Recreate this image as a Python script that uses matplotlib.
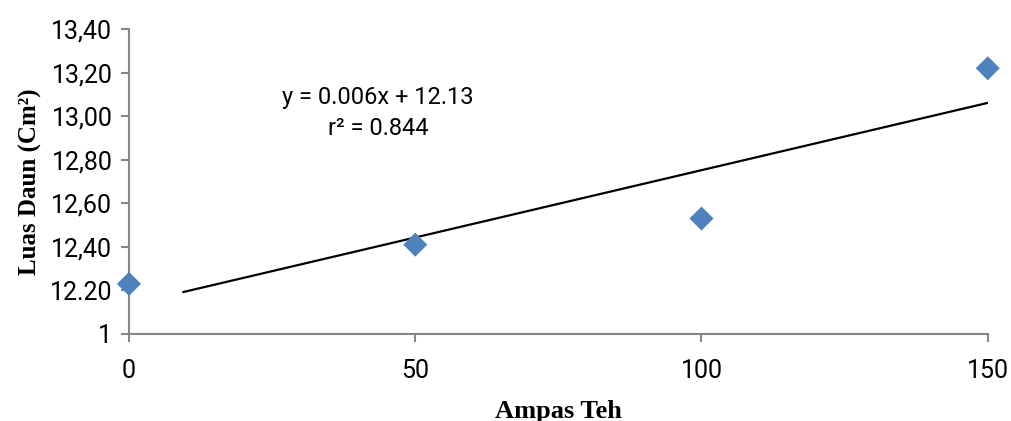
import numpy as np
import matplotlib.pyplot as plt

# data
ampas_teh = np.array([0, 50, 100, 150])
luas_daun = np.array([12.23, 12.41, 12.53, 13.22])

y_ticks = [12.00, 12.20, 12.40, 12.60, 12.80, 13.00, 13.20, 13.40]
y_labels = ["1", "12.20", "12,40", "12,60", "12,80", "13,00", "13,20", "13,40"]
x_ticks = [0, 50, 100, 150]

fig = plt.figure(figsize=(10.11, 4.21), dpi=100)
ax = fig.add_axes([0.1276, 0.2067, 0.8494, 0.7243])

# trend line (linear fit)
slope, intercept = np.polyfit(ampas_teh, luas_daun, 1)
xl = np.array([9.5, 150])
ax.plot(xl, slope * xl + intercept, color='black', lw=1.6, zorder=2)

ax.scatter(ampas_teh, luas_daun, marker='D', s=150, color='#4F81BD',
           edgecolors='none', zorder=3, clip_on=False)

ax.text(43.5, 13.015, "y = 0.006x + 12.13\nr² = 0.844", ha='center', va='center',
        fontsize=17, family='Roboto', linespacing=1.4)

ax.set_xlim(0, 150)
ax.set_ylim(12.0, 13.4)
ax.set_xticks(x_ticks)
ax.set_xticklabels([str(v) for v in x_ticks])
ax.set_yticks(y_ticks)
ax.set_yticklabels(y_labels)

for s in ['top', 'right']:
    ax.spines[s].set_visible(False)
for s in ['left', 'bottom']:
    ax.spines[s].set_color('#868686')
    ax.spines[s].set_linewidth(1.5)
ax.tick_params(axis='both', direction='out', length=6, width=1.5, color='#868686',
               labelsize=18, pad=6)
ax.tick_params(axis='x', pad=12)
for lab in ax.get_xticklabels() + ax.get_yticklabels():
    lab.set_family('Roboto')

ax.set_xlabel("Ampas Teh", fontsize=19, fontweight='bold', family='Liberation Serif',
              labelpad=12)
ax.set_ylabel("Luas Daun (Cm²)", fontsize=18, fontweight='bold',
              family='Liberation Serif', labelpad=6)

fig.savefig('out.png', dpi=100)
